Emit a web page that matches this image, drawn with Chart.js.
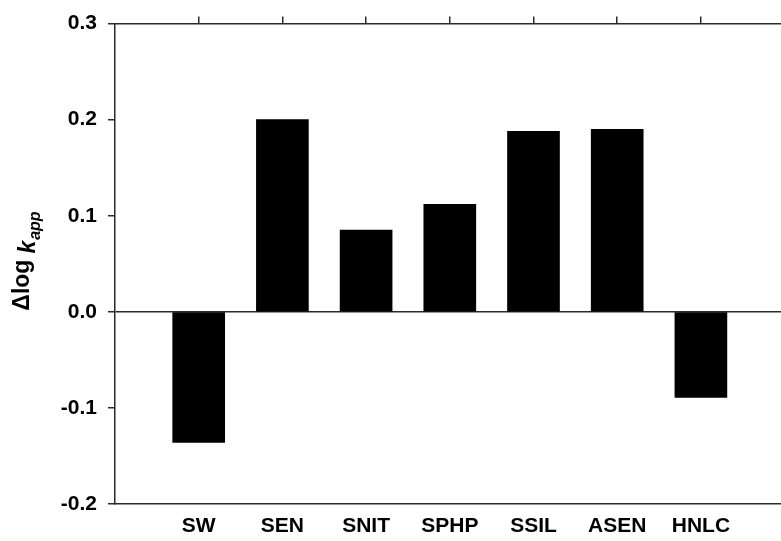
<!DOCTYPE html>
<html>
<head>
<meta charset="utf-8">
<script src="https://cdn.jsdelivr.net/npm/chart.js@4/dist/chart.umd.min.js"></script>
<style>
  html, body { margin: 0; padding: 0; background: #fff; }
  canvas { display: block; }
</style>
</head>
<body>
<canvas id="c" width="781" height="541"></canvas>
<script>
// Sample treatments and their change in log apparent rate constant
const categories = ['SW', 'SEN', 'SNIT', 'SPHP', 'SSIL', 'ASEN', 'HNLC'];
const deltaLogK = [-0.136, 0.200, 0.085, 0.112, 0.188, 0.190, -0.089];
const yTicks = [-0.2, -0.1, 0.0, 0.1, 0.2, 0.3];
const yTitleMain = '\u0394log';
const yTitleVar = 'k';
const yTitleSub = 'app';

const FONT = "'Liberation Sans', Arial, Helvetica, sans-serif";
const LINE = '#2a2a2a';
const X_MAX = 7.957;

const points = categories.map((c, i) => ({ x: i + 1, y: deltaLogK[i] }));

function categoryTicks(scale) {
  scale.ticks = categories.map((c, i) => ({ value: i + 1 }));
}

// Rotated y-axis title with italic variable and subscript
const yTitlePlugin = {
  id: 'yTitle',
  afterDraw(chart) {
    const ctx = chart.ctx;
    const cy = 261;
    const cx = 29;
    const mainFont = `bold 23px ${FONT}`;
    const varFont = `italic bold 23px ${FONT}`;
    const subFont = `italic bold 16px ${FONT}`;
    const gap = 6;
    ctx.save();
    ctx.fillStyle = '#000';
    ctx.textBaseline = 'alphabetic';
    ctx.font = mainFont; const w1 = ctx.measureText(yTitleMain).width;
    ctx.font = varFont; const w2 = ctx.measureText(yTitleVar).width;
    ctx.font = subFont; const w3 = ctx.measureText(yTitleSub).width;
    const total = w1 + gap + w2 + 1 + w3;
    ctx.translate(cx, cy);
    ctx.rotate(-Math.PI / 2);
    let x = -total / 2;
    ctx.font = mainFont; ctx.fillText(yTitleMain, x, 0); x += w1 + gap;
    ctx.font = varFont; ctx.fillText(yTitleVar, x, 6); x += w2 + 1;
    ctx.font = subFont; ctx.fillText(yTitleSub, x, 11);
    ctx.restore();
  }
};

new Chart(document.getElementById('c'), {
  type: 'bar',
  data: {
    datasets: [{
      data: points,
      backgroundColor: '#000',
      borderWidth: 0,
      barThickness: 52,
      xAxisID: 'x',
      yAxisID: 'y'
    }]
  },
  options: {
    responsive: false,
    animation: false,
    devicePixelRatio: 1,
    layout: { padding: { left: 0, right: 0, top: 0, bottom: 0 } },
    plugins: { legend: { display: false }, tooltip: { enabled: false } },
    scales: {
      x: {
        type: 'linear',
        position: 'bottom',
        offset: false,
        min: 0,
        max: X_MAX,
        afterBuildTicks: categoryTicks,
        afterFit(scale) { scale.height = 37; },
        grid: { offset: false, drawOnChartArea: false, drawTicks: false },
        border: { display: true, color: LINE, width: 1.5 },
        ticks: {
          autoSkip: false,
          maxRotation: 0,
          padding: 10,
          color: '#000',
          font: { family: FONT, size: 21, weight: 'bold' },
          callback: (v) => categories[Math.round(v) - 1] || ''
        }
      },
      x2: {
        type: 'linear',
        position: 'top',
        offset: false,
        min: 0,
        max: X_MAX,
        afterBuildTicks: categoryTicks,
        afterFit(scale) { scale.height = 17; },
        grid: { offset: false, drawOnChartArea: false, drawTicks: true, tickLength: 7, tickColor: LINE, lineWidth: 1.5 },
        border: { display: true, color: LINE, width: 1.5 },
        ticks: { display: false }
      },
      y: {
        type: 'linear',
        position: 'left',
        min: -0.2,
        max: 0.3,
        afterBuildTicks(scale) { scale.ticks = yTicks.map(v => ({ value: v })); },
        afterFit(scale) { scale.width = 115; },
        grid: {
          drawOnChartArea: true,
          tickLength: 7,
          tickColor: LINE,
          lineWidth: 1.5,
          color: (ctx) => (ctx.tick && Math.abs(ctx.tick.value) < 1e-9 ? LINE : 'rgba(0,0,0,0)')
        },
        border: { display: true, color: LINE, width: 1.5 },
        ticks: {
          padding: 11,
          color: '#000',
          font: { family: FONT, size: 21, weight: 'bold' },
          callback: (v) => Number(v).toFixed(1)
        }
      }
    }
  },
  plugins: [yTitlePlugin]
});
</script>
</body>
</html>
